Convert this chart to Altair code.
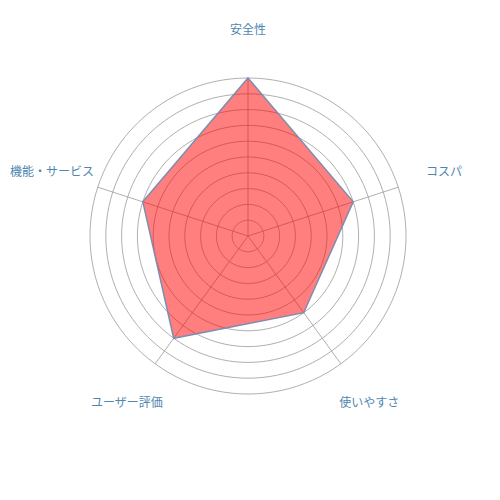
import altair as alt
import pandas as pd

categories = ["安全性", "コスパ", "使いやすさ", "ユーザー評価", "機能・サービス"]
values = [10, 7, 6, 8, 7]
rings = [1, 2, 3, 4, 5, 6, 7, 8, 9, 10]
max_value = 10
label_radius = 13.05

n = len(categories)
df = pd.DataFrame({"cat": categories, "v": values, "idx": list(range(n))})
ring_df = pd.DataFrame({"r": rings})

W, H = 480, 456
ppu = 15.8
xs = alt.Scale(domain=[-W / 2 / ppu, W / 2 / ppu], nice=False, zero=False)
ys = alt.Scale(domain=[-H / 2 / ppu, H / 2 / ppu], nice=False, zero=False)
X = lambda f: alt.X(f"{f}:Q", scale=xs, axis=None)
Y = lambda f: alt.Y(f"{f}:Q", scale=ys, axis=None)

ang = f"(PI/2 - 2*PI*datum.idx/{n})"

circles = alt.Chart(ring_df).transform_calculate(
    a="sequence(0, 361, 3)"
).transform_flatten(["a"]).transform_calculate(
    x="datum.r*cos(datum.a*PI/180)", y="datum.r*sin(datum.a*PI/180)"
).mark_line(color="#9a9a9a", strokeWidth=0.8).encode(
    x=X("x"), y=Y("y"), detail="r:N", order="a:Q"
)

spokes = alt.Chart(df).transform_calculate(
    x0="0", y0="0",
    x1=f"{max_value}*cos({ang})", y1=f"{max_value}*sin({ang})"
).mark_rule(color="#9a9a9a", strokeWidth=0.8).encode(
    x=X("x0"), y=Y("y0"), x2="x1:Q", y2="y1:Q"
)

poly = alt.Chart(df).transform_calculate(
    x=f"datum.v*cos({ang})", y=f"datum.v*sin({ang})"
).mark_line(
    interpolate="linear-closed", fill="#ff0000", fillOpacity=0.5,
    stroke="#7f8cb0", strokeWidth=1.5
).encode(x=X("x"), y=Y("y"), order="idx:Q")

labels = alt.Chart(df).transform_calculate(
    x=f"{label_radius}*cos({ang})", y=f"{label_radius}*sin({ang})"
).mark_text(
    font="Noto Sans CJK JP", fontSize=12, color="#4f86b0",
    align="center", baseline="middle"
).encode(x=X("x"), y=Y("y"), text="cat:N")

chart = alt.layer(circles, spokes, poly, labels).properties(
    width=W, height=H, padding=0, autosize=alt.AutoSizeParams(type="none")
).configure_view(stroke=None)

chart.save("out.html", embed_options={"renderer": "svg", "actions": False})
